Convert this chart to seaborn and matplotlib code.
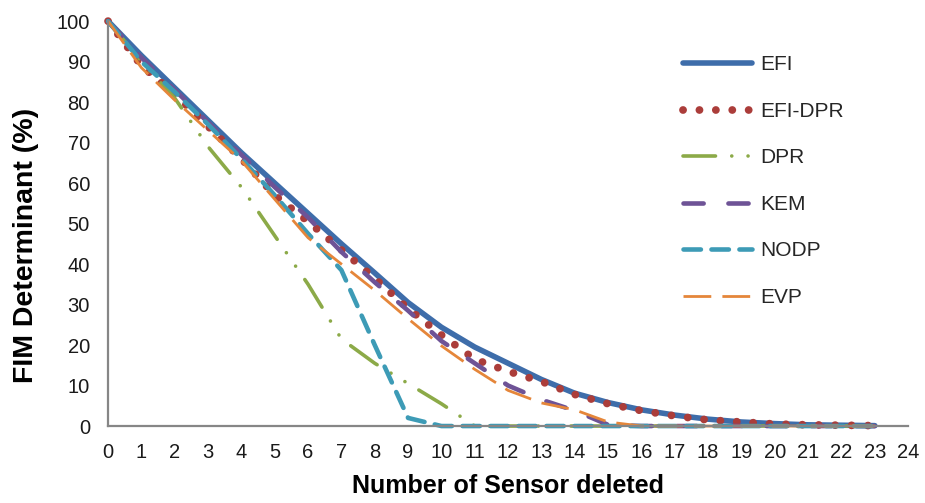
import numpy as np
import pandas as pd
import matplotlib
matplotlib.use("Agg")
import matplotlib.pyplot as plt
import seaborn as sns

# sensors deleted
sensors = list(range(24))

efi = [100, 91.5, 83.5, 75.5, 67.5, 60, 52.5, 45, 37.8, 30.5, 24.4, 19.5,
       15.5, 11.5, 8.1, 5.8, 4, 2.7, 1.7, 1, 0.6, 0.3, 0.2, 0.1]
efi_dpr = [100, 89, 82, 74, 66, 57, 50.5, 43.5, 36.5, 29, 22.5, 16.5,
           13.5, 11, 7.8, 5.5, 3.8, 2.5, 1.5, 1, 0.5, 0.3, 0.2, 0.1]
dpr = [100, 90, 81, 69, 59, 47, 35, 21.5, 15.5, 10.5, 5.5, 0,
       0, 0, 0, 0, 0, 0, 0, 0, 0, 0, 0, 0]
kem = [100, 91, 83, 75, 67, 59, 51.5, 43, 35.5, 28.5, 21, 15.5,
       10, 6.5, 3.8, 0.3, 0, 0, 0, 0, 0, 0, 0, 0]
nodp = [100, 90, 82.5, 74.5, 66, 57, 47.5, 38.5, 20, 2, 0, 0,
        0, 0, 0, 0, 0, 0, 0, 0, 0, 0, 0, 0]
evp = [100, 88.5, 80.5, 73, 65.5, 56, 46.5, 40, 33.5, 26.5, 19.8, 14,
       8.8, 5.7, 4, 1, 0, 0, 0, 0, 0, 0, 0, 0]

series_names = ["EFI", "EFI-DPR", "DPR", "KEM", "NODP", "EVP"]
series_values = [efi, efi_dpr, dpr, kem, nodp, evp]

# look of each line: colour, width, dash pattern, cap style
styles = {
    "EFI": dict(color="#3E6DAA", linewidth=4.0, linestyle="-"),
    "EFI-DPR": dict(color="#AB3D3A", linewidth=5.6, linestyle=(0, (0.01, 2.1)),
                    dash_capstyle="round"),
    "DPR": dict(color="#8CAA48", linewidth=2.6, linestyle=(0, (9, 4.5, 0.01, 4.5, 0.01, 4.5)),
                dash_capstyle="round"),
    "KEM": dict(color="#6E5396", linewidth=3.3, linestyle=(0, (4.4, 5.4)),
                dash_capstyle="round"),
    "NODP": dict(color="#3D9BB6", linewidth=3.3, linestyle=(0, (3.8, 2.3)),
                 dash_capstyle="round"),
    "EVP": dict(color="#E5863A", linewidth=2.0, linestyle=(0, (10, 4))),
}

df = pd.DataFrame({"sensors": np.tile(sensors, len(series_names)),
                   "value": np.concatenate(series_values),
                   "series": np.repeat(series_names, len(sensors))})

sns.set_theme(style="white")
plt.rcParams["font.family"] = ["Liberation Sans", "DejaVu Sans"]

fig = plt.figure(figsize=(9.25, 5.03), dpi=100)
ax = fig.add_axes([0.1168, 0.153, 0.865, 0.805])

for name in series_names:
    sub = df[df["series"] == name]
    sns.lineplot(data=sub, x="sensors", y="value", ax=ax, label=name,
                 clip_on=False, **styles[name])

ax.set_xlim(0, 24)
ax.set_ylim(0, 100)
ax.set_xticks(range(0, 25))
ax.set_yticks(range(0, 101, 10))
ax.tick_params(axis="x", length=0, pad=12, labelsize=14.5, labelcolor="#1a1a1a")
ax.tick_params(axis="y", length=0, pad=13, labelsize=14.5, labelcolor="#1a1a1a")
for s in ["top", "right"]:
    ax.spines[s].set_visible(False)
for s in ["left", "bottom"]:
    ax.spines[s].set_color("#868686")
    ax.spines[s].set_linewidth(1.6)

ax.set_xlabel("Number of Sensor deleted", fontsize=18, fontweight="bold", color="black")
ax.xaxis.set_label_coords(0.5, -0.118)
ax.set_ylabel("FIM Determinant (%)", fontsize=20.5, fontweight="bold", color="black")
ax.yaxis.set_label_coords(-0.086, 0.447)

ax.legend(loc="upper left", bbox_to_anchor=(0.718, 0.927), bbox_transform=fig.transFigure,
          frameon=False, fontsize=15, handlelength=3.3, labelspacing=1.32,
          handletextpad=0.4)

fig.savefig("out.png", dpi=100)
